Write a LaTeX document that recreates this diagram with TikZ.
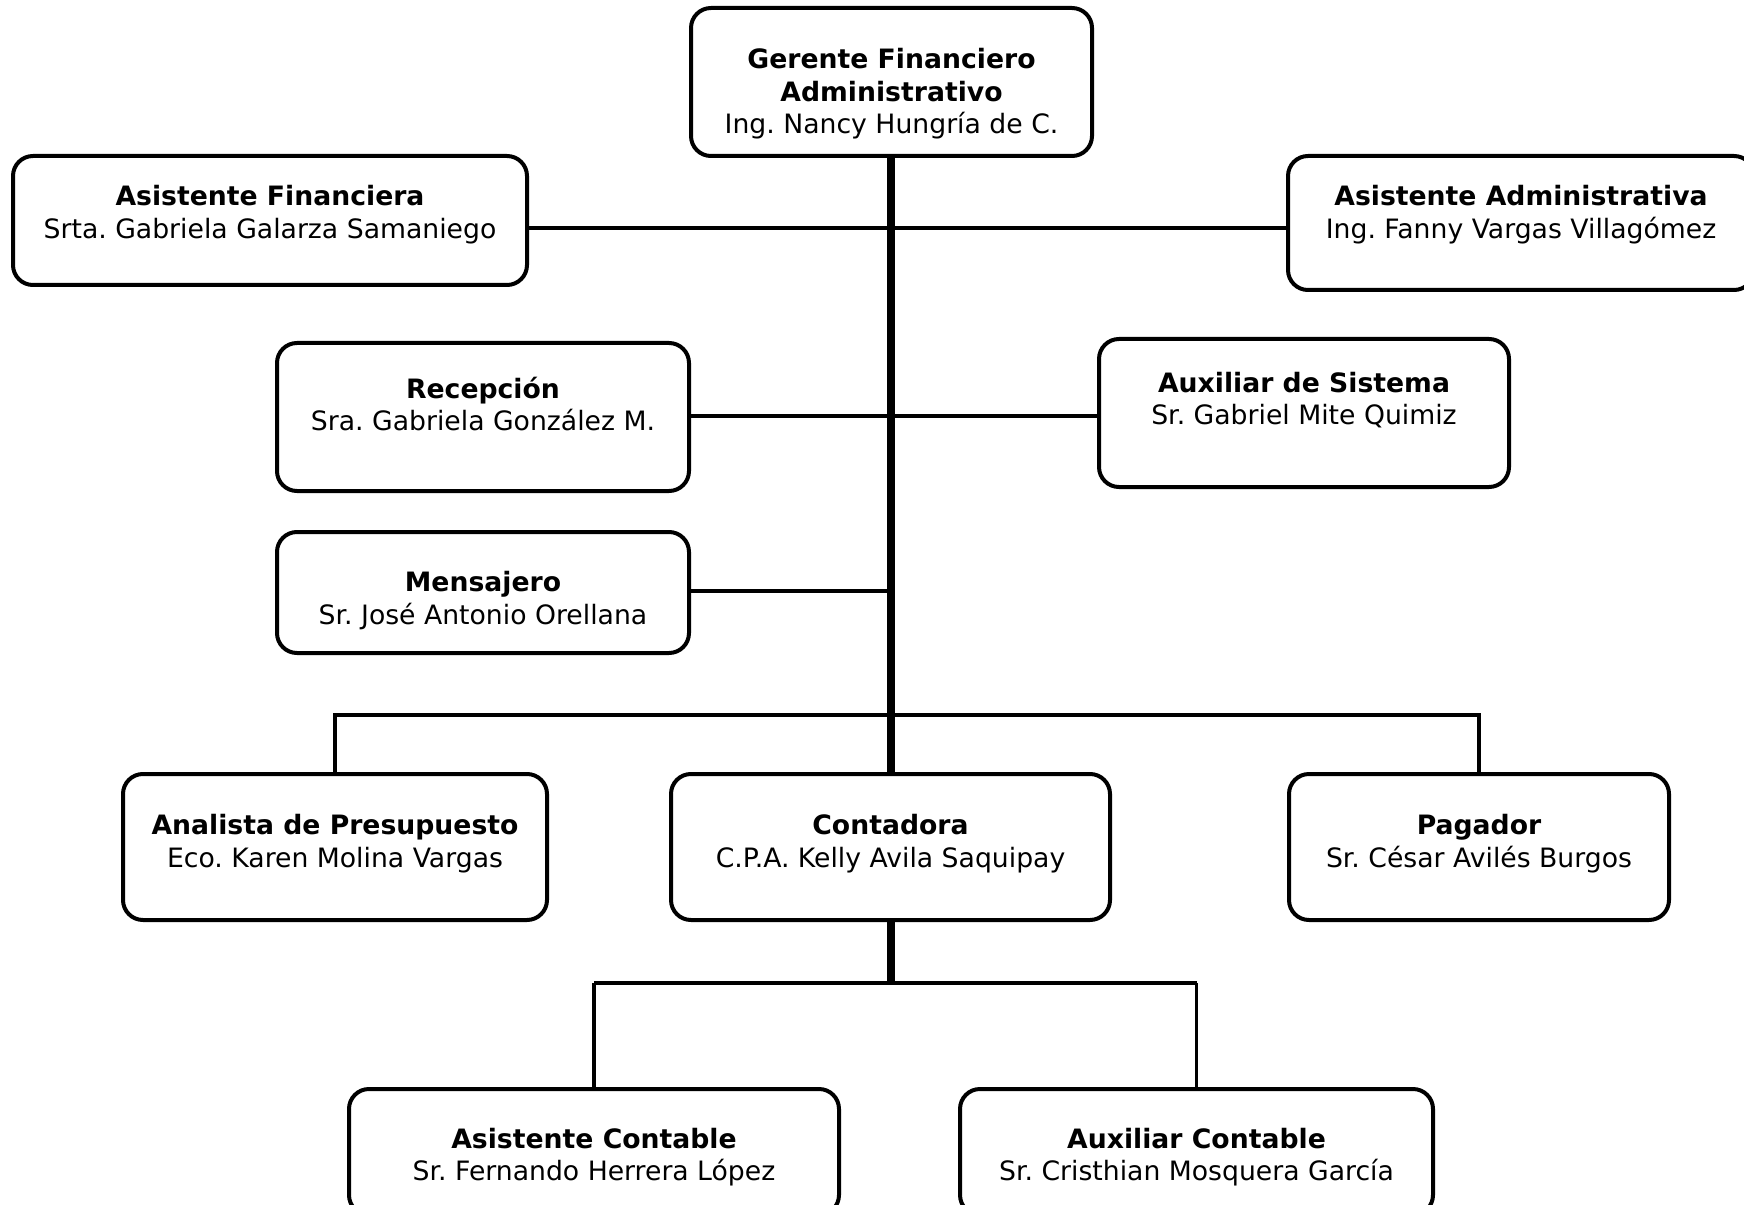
\documentclass[tikz,border=0pt]{standalone}
\usepackage{fontspec}
\setmainfont{DejaVu Sans}
\usetikzlibrary{calc}
\frenchspacing
\begin{document}
\begin{tikzpicture}[x=0.75pt,y=-0.75pt,
  orgbox/.style={draw=black, line width=3pt, rounded corners=15pt, fill=white, inner sep=0pt, outer sep=0pt},
  orgtxt/.style={align=center, inner sep=0pt, font=\frenchspacing\fontsize{20pt}{24.3pt}\selectfont},
  thin/.style={draw=black, line width=2.6pt},
  trunk/.style={draw=black, line width=6pt},
  midline/.style={draw=black, line width=3.6pt}]
\useasboundingbox (0,0) rectangle (1744,1205);
\clip (0,0) rectangle (1744,1205);
\fill[white] (0,0) rectangle (1744,1205);

\coordinate (j1) at (891,228);
\coordinate (j2) at (891,416);
\coordinate (j3) at (891,591);
\coordinate (j4) at (891,715);
\coordinate (j5) at (891,983);

% boxes
\node[orgbox, minimum width=300.75pt, minimum height=111pt] (ger) at (891.5,82) {};
\node[orgbox, minimum width=385.5pt, minimum height=96.75pt] (af) at (270,220.5) {};
\node[orgbox, minimum width=349.5pt, minimum height=100.5pt] (aa) at (1521,223) {};
\node[orgbox, minimum width=309pt, minimum height=111pt] (rec) at (483,417) {};
\node[orgbox, minimum width=307.5pt, minimum height=111pt] (sis) at (1304,413) {};
\node[orgbox, minimum width=309pt, minimum height=90.75pt] (men) at (483,592.5) {};
\node[orgbox, minimum width=318pt, minimum height=109.5pt] (ana) at (335,847) {};
\node[orgbox, minimum width=329.25pt, minimum height=109.5pt] (con) at (890.5,847) {};
\node[orgbox, minimum width=285pt, minimum height=109.5pt] (pag) at (1479,847) {};
\node[orgbox, minimum width=367.5pt, minimum height=94.5pt] (asc) at (594,1152) {};
\node[orgbox, minimum width=354.75pt, minimum height=94.5pt] (auc) at (1196.5,1152) {};

% connectors
\draw[trunk] (ger.south -| j1) -- (con.north -| j1);
\draw[thin] (af.east |- j1) -- (aa.west |- j1);
\draw[thin] (rec.east |- j2) -- (sis.west |- j2);
\draw[thin] (men.east |- j3) -- (j3);
\draw[thin] (ana.north) |- (j4) -| (pag.north);
\draw[trunk] (con.south -| j5) -- (j5);
\draw[midline] (asc.north |- j5) -- (auc.north |- j5);
\draw[thin] (asc.north) -- (asc.north |- j5);
\draw[thin] (auc.north) -- (auc.north |- j5);

% texts
\node[orgtxt] (ger-t) at (891.5,94) {\textbf{Gerente Financiero}\\\textbf{Administrativo}\\Ing. Nancy Hungría de C.};
\node[orgtxt] (af-t) at (270,214.5) {\textbf{Asistente Financiera}\\Srta. Gabriela Galarza Samaniego};
\node[orgtxt] (aa-t) at (1521,214.5) {\textbf{Asistente Administrativa}\\Ing. Fanny Vargas Villagómez};
\node[orgtxt] (rec-t) at (483,404) {\textbf{Recepción}\\Sra. Gabriela González M.};
\node[orgtxt] (sis-t) at (1304,400) {\textbf{Auxiliar de Sistema}\\Sr. Gabriel Mite Quimiz};
\node[orgtxt] (men-t) at (483,600.5) {\textbf{Mensajero}\\Sr. José Antonio Orellana};
\node[orgtxt] (ana-t) at (335,843.5) {\textbf{Analista de Presupuesto}\\Eco. Karen Molina Vargas};
\node[orgtxt] (con-t) at (890.5,843.5) {\textbf{Contadora}\\C.P.A. Kelly Avila Saquipay};
\node[orgtxt] (pag-t) at (1479,843.5) {\textbf{Pagador}\\Sr. César Avilés Burgos};
\node[orgtxt] (asc-t) at (594,1157) {\textbf{Asistente Contable}\\Sr. Fernando Herrera López};
\node[orgtxt] (auc-t) at (1196.5,1157) {\textbf{Auxiliar Contable}\\Sr. Cristhian Mosquera García};
\end{tikzpicture}
\end{document}
